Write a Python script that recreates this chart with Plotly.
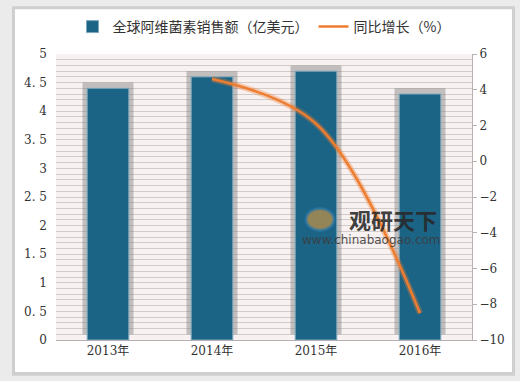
import plotly.graph_objects as go

years = ["2013年", "2014年", "2015年", "2016年"]
sales = [4.4, 4.6, 4.7, 4.3]
growth_years = ["2014年", "2015年", "2016年"]
growth = [4.6, 2.1, -8.5]
left_ticks = [0, 0.5, 1, 1.5, 2, 2.5, 3, 3.5, 4, 4.5, 5]
left_tick_text = ["0", "0. 5", "1", "1. 5", "2", "2. 5", "3", "3. 5", "4", "4. 5", "5"]
right_ticks = [-10, -8, -6, -4, -2, 0, 2, 4, 6]

W, H = 520, 381
ML, MR, MT, MB = 56, 48, 53, 41
PW, PH = W - ML - MR, H - MT - MB

def px(x):
    return (x - ML) / PW

def py(y):
    return (H - MB - y) / PH

tick_font = dict(family="DejaVu Serif, Noto Sans CJK SC", size=12, color="#333333")

fig = go.Figure()

# soft shadow behind bars
fig.add_trace(go.Bar(
    x=years, y=sales, base=0.1, width=0.49,
    marker=dict(color="rgba(120,120,120,0.42)", line=dict(width=0)),
    showlegend=False, hoverinfo="skip",
))
fig.add_trace(go.Bar(
    x=years, y=sales, width=0.4, name="全球阿维菌素销售额（亿美元）",
    marker=dict(color="#1b6486", line=dict(color="#7fa8bd", width=1)),
))
# glow under the line
fig.add_trace(go.Scatter(
    x=growth_years, y=growth, yaxis="y2", mode="lines",
    line=dict(color="rgba(237,125,49,0.35)", width=6, shape="spline"),
    showlegend=False, hoverinfo="skip",
))
fig.add_trace(go.Scatter(
    x=growth_years, y=growth, yaxis="y2", mode="lines", name="同比增长（%）",
    line=dict(color="#ed7d31", width=2.5, shape="spline"),
))

shapes = [
    dict(type="rect", xref="paper", yref="paper", layer="below",
         x0=px(12), x1=px(515), y0=py(376), y1=py(5),
         fillcolor="#cfcfcf", line=dict(width=0)),
    dict(type="rect", xref="paper", yref="paper", layer="below",
         x0=px(15), x1=px(512), y0=py(372), y1=py(8),
         fillcolor="#ffffff", line=dict(width=0)),
    dict(type="rect", xref="paper", yref="paper", layer="below",
         x0=0, x1=1, y0=0, y1=1,
         fillcolor="#f8f1f1", line=dict(width=0)),
    # watermark logo (swirl approximation)
    dict(type="circle", xref="paper", yref="paper", layer="above",
         x0=px(306), x1=px(334), y0=py(230), y1=py(208),
         fillcolor="rgba(245,160,50,0.55)", line=dict(color="rgba(40,120,170,0.65)", width=3)),
]

annotations = [
    dict(text="<b>观研天下</b>", x=px(393), y=py(219), xref="paper", yref="paper",
         xanchor="center", yanchor="middle", showarrow=False,
         font=dict(family="Noto Sans CJK SC", size=22, color="rgba(40,40,40,0.9)")),
    dict(text="www.chinabaogao.com", x=px(371), y=py(240), xref="paper", yref="paper",
         xanchor="center", yanchor="middle", showarrow=False,
         font=dict(family="DejaVu Sans", size=12, color="rgba(60,60,60,0.9)")),
]

fig.update_layout(
    width=W, height=H,
    margin=dict(l=ML, r=MR, t=MT, b=MB),
    paper_bgcolor="#ebebeb",
    plot_bgcolor="rgba(0,0,0,0)",
    barmode="overlay",
    shapes=shapes,
    annotations=annotations,
    legend=dict(orientation="h", x=0.5, xanchor="center", y=py(27), yanchor="middle",
                font=dict(family="Noto Sans CJK SC", size=14, color="#333333"),
                bgcolor="rgba(0,0,0,0)", traceorder="normal"),
    xaxis=dict(showgrid=False, showline=True, linecolor="#b8b0b0", linewidth=1,
               ticks="", tickfont=tick_font),
    yaxis=dict(range=[0, 5], tickvals=left_ticks, ticktext=left_tick_text,
               showgrid=True, gridcolor="#d3caca", gridwidth=1,
               minor=dict(dtick=0.1, showgrid=True, gridcolor="#d3caca", gridwidth=1),
               zeroline=False, showline=False, ticks="", tickfont=tick_font,
               ticklabelstandoff=8),
    yaxis2=dict(range=[-10, 6], tickvals=right_ticks, overlaying="y", side="right",
                showgrid=False, zeroline=False, showline=True, linecolor="#b8b0b0",
                ticks="outside", ticklen=4, tickcolor="#b8b0b0", tickfont=tick_font),
    showlegend=True,
)

fig.write_html("out.html", config={"displayModeBar": False},
               post_script="document.body.style.margin='0';")
